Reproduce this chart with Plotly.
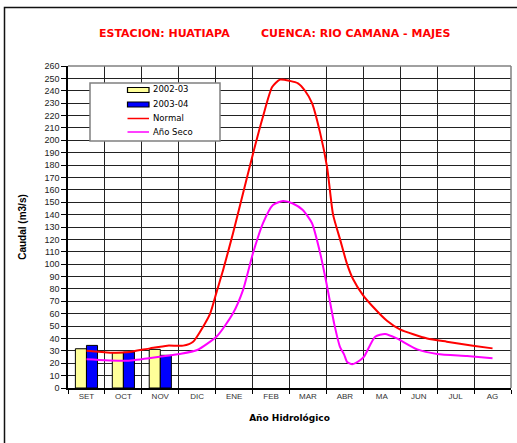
import plotly.graph_objects as go

# ---------------- data ----------------
months = ["SET", "OCT", "NOV", "DIC", "ENE", "FEB", "MAR", "ABR", "MA", "JUN", "JUL", "AG"]
bar_months = ["SET", "OCT", "NOV"]
q_2002_03 = [31.7, 28.5, 31.2]
q_2003_04 = [34.4, 29.0, 26.4]

# curves: position along hydrological year (0 = SET ... 11 = AG) and flow
normal_t = [0.0, 0.64, 1.10, 1.72, 2.19, 2.62, 2.89, 3.16, 3.35, 3.54, 3.70, 3.97, 4.24, 4.51,
            4.78, 5.03, 5.24, 5.51, 5.73, 5.92, 6.11, 6.33, 6.52, 6.68, 6.87, 7.06, 7.22, 7.49,
            7.76, 8.14, 8.49, 9.23, 9.76, 10.47, 11.0]
normal_q = [30.0, 28.5, 28.8, 32.0, 34.2, 34.2, 37.4, 49.5, 60.0, 79.0, 95.0, 125.0, 157.0, 189.0,
            219.0, 243.0, 249.0, 248.0, 246.0, 240.0, 230.0, 206.0, 178.0, 140.0, 120.0, 100.0, 88.0, 75.0,
            65.6, 54.3, 47.4, 40.0, 37.4, 34.2, 32.0]
seco_t = [0.0, 1.10, 1.99, 2.53, 3.0, 3.54, 3.97, 4.24, 4.51, 4.78, 5.05, 5.32, 5.59, 5.86,
          6.11, 6.33, 6.52, 6.71, 6.87, 6.98, 7.06, 7.20, 7.42, 7.52, 7.82, 8.09, 8.41, 8.96,
          9.50, 10.31, 11.0]
seco_q = [23.2, 22.0, 25.3, 27.5, 30.7, 42.0, 60.3, 79.0, 108.8, 133.0, 147.8, 151.0, 149.0, 143.7,
          133.0, 109.0, 81.8, 52.0, 33.0, 27.0, 21.0, 19.2, 22.6, 25.3, 41.4, 43.6, 40.0, 31.2,
          27.5, 25.8, 24.0]

y_ticks = list(range(0, 261, 10))

series_names = ["2002-03", "2003-04", "Normal", "Año Seco"]
series_colors = ["#FFFF99", "#0000FF", "#FF0000", "#FF00FF"]

FONT = "Arial, Liberation Sans, sans-serif"
WIDE = "DejaVu Sans, Verdana, sans-serif"

# ---------------- layout geometry (pixels) ----------------
W, H = 517, 443
L, R, T, B = 68, 6, 66, 55
PW, PH = W - L - R, H - T - B


def px(x):
    return (x - L) / PW


def py(y):
    return (H - B - y) / PH


fig = go.Figure()

fig.add_trace(go.Bar(x=bar_months, y=q_2002_03, name=series_names[0],
                     marker=dict(color=series_colors[0], line=dict(color="#000000", width=1))))
fig.add_trace(go.Bar(x=bar_months, y=q_2003_04, name=series_names[1],
                     marker=dict(color=series_colors[1], line=dict(color="#000000", width=1))))
fig.add_trace(go.Scatter(x=normal_t, y=normal_q, name=series_names[2], mode="lines", xaxis="x2",
                         line=dict(color=series_colors[2], width=2, shape="spline", smoothing=0.6)))
fig.add_trace(go.Scatter(x=seco_t, y=seco_q, name=series_names[3], mode="lines", xaxis="x2",
                         line=dict(color=series_colors[3], width=2, shape="spline", smoothing=0.6)))

shapes = [
    # outer frame
    dict(type="rect", xref="paper", yref="paper", x0=px(4.5), x1=px(530), y0=py(470), y1=py(7.5),
         line=dict(color="#111111", width=1.5), fillcolor="rgba(0,0,0,0)", layer="below"),
    # plot area top & right border
    dict(type="line", xref="paper", yref="paper", x0=0, x1=1, y0=1, y1=1,
         line=dict(color="#808080", width=1.5)),
    dict(type="line", xref="paper", yref="paper", x0=1, x1=1, y0=0, y1=1,
         line=dict(color="#808080", width=1.5)),
    # legend box
    dict(type="rect", xref="paper", yref="paper", x0=px(90), x1=px(220), y0=py(141), y1=py(83),
         line=dict(color="#808080", width=1.5), fillcolor="#FFFFFF", layer="above"),
]

annotations = [
    dict(text="<b>ESTACION: HUATIAPA</b>", xref="paper", yref="paper", x=px(164), y=py(33),
         showarrow=False, font=dict(family=WIDE, size=11, color="#FF0000"), xanchor="center", yanchor="middle"),
    dict(text="<b>CUENCA: RIO CAMANA - MAJES</b>", xref="paper", yref="paper", x=px(356), y=py(33),
         showarrow=False, font=dict(family=WIDE, size=11, color="#FF0000"), xanchor="center", yanchor="middle"),
]

# legend (drawn inside the box)
row_y = [89, 103.5, 118, 131.5]
for i, (nm, col) in enumerate(zip(series_names, series_colors)):
    yc = row_y[i]
    if i < 2:
        shapes.append(dict(type="rect", xref="paper", yref="paper",
                           x0=px(127.5), x1=px(149), y0=py(yc + 3.5), y1=py(yc - 1.5),
                           fillcolor=col, line=dict(color="#000000", width=1.2), layer="above"))
    else:
        shapes.append(dict(type="line", xref="paper", yref="paper",
                           x0=px(127.5), x1=px(149), y0=py(yc + 0.5), y1=py(yc + 0.5),
                           line=dict(color=col, width=1.5), layer="above"))
    annotations.append(dict(text=nm, xref="paper", yref="paper", x=px(150.5), y=py(yc),
                            showarrow=False, xanchor="left", yanchor="middle",
                            font=dict(family=WIDE, size=8.5, color="#000000")))

fig.update_layout(
    width=W, height=H,
    margin=dict(l=L, r=R, t=T, b=B, autoexpand=False),
    paper_bgcolor="#FFFFFF", plot_bgcolor="#FFFFFF",
    font=dict(family=FONT, size=9, color="#222222"),
    barmode="group", bargap=0.4, bargroupgap=0,
    showlegend=False,
    xaxis=dict(type="category", categoryorder="array", categoryarray=months,
               range=[-0.5, 11.5], tickson="boundaries", ticks="outside", ticklen=4,
               tickcolor="#000000", showgrid=True, gridcolor="#222222", gridwidth=1,
               showline=True, linecolor="#000000", linewidth=1.5, automargin=False,
               tickfont=dict(family=FONT, size=8, color="#333333"),
               title=dict(text="<b>Año Hidrológico</b>", font=dict(family=WIDE, size=9, color="#000000"),
                          standoff=14),
               fixedrange=True),
    xaxis2=dict(overlaying="x", range=[-0.5, 11.5], visible=False, showgrid=False),
    yaxis=dict(range=[0, 260], tickmode="array", tickvals=y_ticks, ticktext=[str(v) for v in y_ticks],
               ticks="outside", ticklen=5, tickcolor="#000000", automargin=False,
               showgrid=True, gridcolor="#222222", gridwidth=1,
               showline=True, linecolor="#000000", linewidth=1.5, zeroline=False,
               tickfont=dict(family=FONT, size=9, color="#222222"),
               title=dict(text="<b>Caudal (m3/s)</b>", font=dict(family=FONT, size=10, color="#000000"),
                          standoff=16)),
    shapes=shapes,
    annotations=annotations,
)

fig.write_html("out.html", config={"displayModeBar": False},
               post_script="document.body.style.margin='0';")
